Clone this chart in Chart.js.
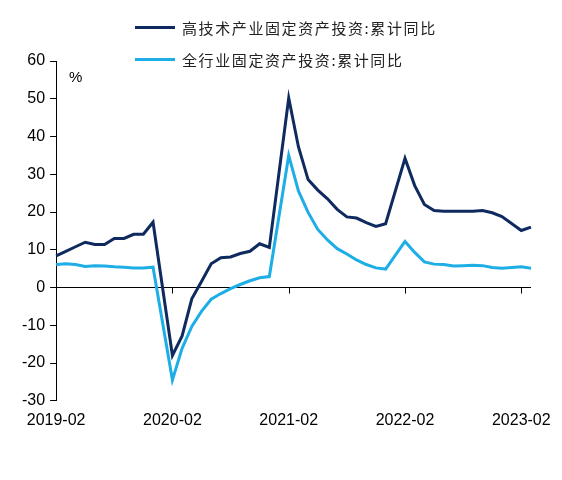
<!DOCTYPE html>
<html>
<head>
<meta charset="utf-8">
<script src="https://cdn.jsdelivr.net/npm/chart.js@4/dist/chart.umd.min.js"></script>
<style>
  body { margin: 0; background: #fff; }
  #wrap { position: relative; width: 562px; height: 480px; }
  #legend { position: absolute; left: 135px; top: 11px; font-family: "Noto Sans CJK SC", sans-serif; font-size: 15px; letter-spacing: 1.6px; color: #222; }
  .item { display: flex; align-items: center; height: 32px; }
  .swatch { width: 40px; height: 3px; margin-right: 7px; }
</style>
</head>
<body>
<div id="wrap">
  <canvas id="myChart" width="562" height="480"></canvas>
  <div id="legend"></div>
</div>
<script>
// months from 2019-02 to 2023-03, January has no data (Jan-Feb combined)
var months = [
  "2019-02","2019-03","2019-04","2019-05","2019-06","2019-07","2019-08","2019-09","2019-10","2019-11","2019-12",
  "2020-01","2020-02","2020-03","2020-04","2020-05","2020-06","2020-07","2020-08","2020-09","2020-10","2020-11","2020-12",
  "2021-01","2021-02","2021-03","2021-04","2021-05","2021-06","2021-07","2021-08","2021-09","2021-10","2021-11","2021-12",
  "2022-01","2022-02","2022-03","2022-04","2022-05","2022-06","2022-07","2022-08","2022-09","2022-10","2022-11","2022-12",
  "2023-01","2023-02","2023-03"
];
var tickLabels = ["2019-02","2020-02","2021-02","2022-02","2023-02"];

var highTech = [
  8.4, 9.6, 10.8, 12.0, 11.4, 11.4, 13.0, 13.0, 14.1, 14.1, 17.3,
  null, -18.0, -12.8, -3.0, 1.6, 6.3, 7.9, 8.1, 9.0, 9.6, 11.6, 10.6,
  null, 50.2, 37.3, 28.6, 25.8, 23.5, 20.7, 18.7, 18.4, 17.2, 16.2, 16.9,
  null, 34.2, 27.0, 22.0, 20.4, 20.2, 20.2, 20.2, 20.2, 20.4, 19.8, 18.8,
  null, 15.1, 16.0
];
var allIndustry = [
  6.1, 6.3, 6.1, 5.6, 5.8, 5.7, 5.5, 5.4, 5.2, 5.2, 5.4,
  null, -24.5, -16.1, -10.3, -6.3, -3.1, -1.6, -0.3, 0.8, 1.8, 2.6, 2.9,
  null, 35.0, 25.6, 19.9, 15.4, 12.6, 10.3, 8.9, 7.3, 6.1, 5.2, 4.9,
  null, 12.2, 9.3, 6.8, 6.2, 6.1, 5.7, 5.8, 5.9, 5.8, 5.3, 5.1,
  null, 5.5, 5.1
];
var seriesNames = ["高技术产业固定资产投资:累计同比", "全行业固定资产投资:累计同比"];
var seriesColors = ["#0E2A5F", "#1EAEE6"];

var axisFont = { family: "'Liberation Sans', Arial, sans-serif", size: 16 };

// zero line tick marks, and the % unit label
var extras = {
  id: 'extras',
  afterDraw: function(chart) {
    var c = chart.ctx, x = chart.scales.x, y = chart.scales.y;
    var y0 = y.getPixelForValue(0);
    c.save();
    c.strokeStyle = '#000';
    c.lineWidth = 1;
    months.forEach(function(m, i) {
      if (tickLabels.indexOf(m) >= 0 && i > 0) {
        var px = Math.round(x.getPixelForValue(i)) + 0.5;
        c.beginPath();
        c.moveTo(px, y0);
        c.lineTo(px, y0 + 6);
        c.stroke();
      }
    });
    c.fillStyle = '#000';
    c.font = "15px 'Liberation Sans', Arial, sans-serif";
    c.textBaseline = 'middle';
    c.fillText('%', 69, 78);
    c.restore();
  }
};

var ctx = document.getElementById('myChart').getContext('2d');
var myChart = new Chart(ctx, {
  type: 'line',
  data: {
    labels: months,
    datasets: [
      { label: seriesNames[0], data: highTech, borderColor: seriesColors[0], borderWidth: 3, pointRadius: 0, spanGaps: true, tension: 0 },
      { label: seriesNames[1], data: allIndustry, borderColor: seriesColors[1], borderWidth: 3, pointRadius: 0, spanGaps: true, tension: 0 }
    ]
  },
  options: {
    responsive: false,
    animation: false,
    layout: { padding: { top: 61, left: 17, right: 31, bottom: 40 } },
    plugins: { legend: { display: false }, tooltip: { enabled: false } },
    scales: {
      x: {
        offset: false,
        grid: { display: false, drawTicks: false },
        border: { display: false },
        ticks: {
          autoSkip: false, maxRotation: 0, padding: 10, color: '#000', font: axisFont,
          callback: function(v, i) { return tickLabels.indexOf(months[i]) >= 0 ? months[i] : ''; }
        }
      },
      y: {
        min: -30, max: 60,
        ticks: { stepSize: 10, color: '#000', font: axisFont, padding: 5 },
        grid: {
          color: function(c) { return c.tick && c.tick.value === 0 ? '#000' : 'rgba(0,0,0,0)'; },
          tickColor: '#000', tickLength: 6, lineWidth: 1
        },
        border: { display: true, color: '#000', width: 1 }
      }
    }
  },
  plugins: [extras]
});

// legend
var lg = document.getElementById('legend');
seriesNames.forEach(function(n, i) {
  var d = document.createElement('div');
  d.className = 'item';
  d.innerHTML = '<span class="swatch" style="background:' + seriesColors[i] + '"></span><span>' + n + '</span>';
  lg.appendChild(d);
});
</script>
</body>
</html>
